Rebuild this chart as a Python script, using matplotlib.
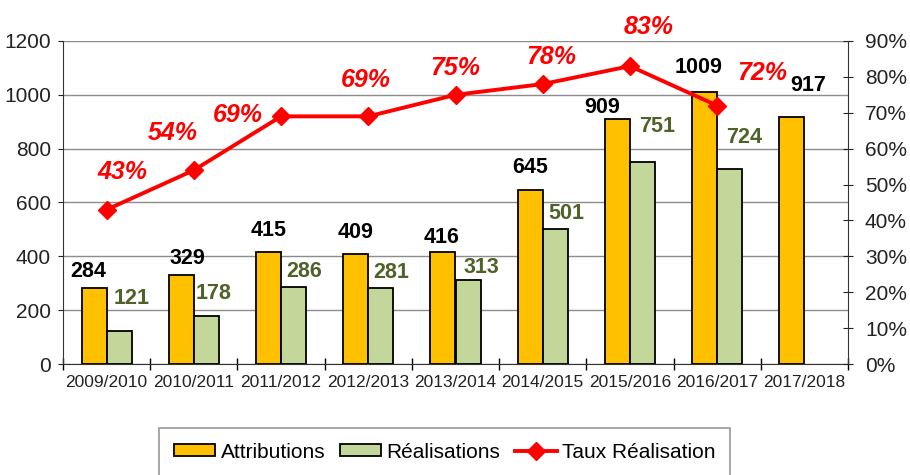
import matplotlib
matplotlib.use("Agg")
import matplotlib.pyplot as plt
import numpy as np

saisons = ["2009/2010", "2010/2011", "2011/2012", "2012/2013", "2013/2014",
           "2014/2015", "2015/2016", "2016/2017", "2017/2018"]
attributions = [284, 329, 415, 409, 416, 645, 909, 1009, 917]
realisations = [121, 178, 286, 281, 313, 501, 751, 724]
taux = [43, 54, 69, 69, 75, 78, 83, 72]

# where the value labels sit, in pixels from the top of the bar / marker
off_attr = [(-6, 16), (6, 17), (0, 22), (0, 21), (-1, 15), (0, 23), (-15, 12), (-6, 25), (16, 32)]
off_real = [(12, 33), (7, 23), (11, 16), (10, 16), (13, 12), (11, 16), (15, 35), (14, 32)]
off_taux = [(16, 38), (-21, 37), (-43, 1), (-2, 36), (0, 27), (9, 27), (19, 39), (45, 33)]

plt.rcParams["font.family"] = ["Liberation Sans", "DejaVu Sans"]

fig = plt.figure(figsize=(9.1, 4.75), dpi=100)
ax = fig.add_axes([63 / 910, 1 - 364 / 475, 785 / 910, 323 / 475])
ax2 = ax.twinx()

x = np.arange(len(saisons))
w = 0.287
b1 = ax.bar(x - w / 2, attributions, w, color="#FFC000", edgecolor="black",
            linewidth=1.3, zorder=3, label="Attributions")
xr = x[:len(realisations)]
b2 = ax.bar(xr + w / 2, realisations, w, color="#C4D79B", edgecolor="black",
            linewidth=1.3, zorder=3, label="Réalisations")
ln, = ax2.plot(xr, taux, color="#FF0000", lw=2.8, marker="D", markersize=9,
               label="Taux Réalisation", zorder=5)

for xi, v, (dx, dy) in zip(x - w / 2, attributions, off_attr):
    ax.annotate(str(v), (xi, v), xytext=(dx, dy), textcoords="offset pixels",
                ha="center", va="center", fontsize=15.5, fontweight="bold",
                color="black", zorder=6)
for xi, v, (dx, dy) in zip(xr + w / 2, realisations, off_real):
    ax.annotate(str(v), (xi, v), xytext=(dx, dy), textcoords="offset pixels",
                ha="center", va="center", fontsize=15.5, fontweight="bold",
                color="#4F6228", zorder=6)
for xi, v, (dx, dy) in zip(xr, taux, off_taux):
    ax2.annotate("%d%%" % v, (xi, v), xytext=(dx, dy), textcoords="offset pixels",
                 ha="center", va="center", fontsize=18, fontweight="bold",
                 fontstyle="italic", color="#FF0000", zorder=6)

ax.set_xlim(-0.5, len(saisons) - 0.5)
ax.set_ylim(0, 1200)
ax.set_yticks(range(0, 1201, 200))
ax2.set_ylim(0, 90)
ax2.set_yticks(range(0, 91, 10))
ax2.set_yticklabels(["%d%%" % t for t in range(0, 91, 10)])

ax.set_xticks(x)
ax.set_xticklabels(saisons)
ax.set_xticks(np.arange(-0.5, len(saisons)), minor=True)
ax.tick_params(axis="x", which="major", length=0, pad=8, labelsize=12.5, colors="#222222")
ax.tick_params(axis="x", which="minor", direction="inout", length=8.6, width=1)
ax.tick_params(axis="y", direction="out", length=3.6, pad=5, labelsize=15, colors="#222222")
ax2.tick_params(axis="y", direction="inout", length=7.2, pad=8.6, labelsize=15, colors="#222222")

ax.set_axisbelow(True)
ax.grid(axis="y", color="#8c8c8c", lw=1)
for s in ["top", "right"]:
    ax.spines[s].set_visible(False)
for s in ["top", "left", "bottom"]:
    ax2.spines[s].set_visible(False)
ax.spines["left"].set_color("#333333")
ax.spines["bottom"].set_color("#333333")
ax2.spines["right"].set_color("#333333")

leg = fig.legend([b1, b2, ln], ["Attributions", "Réalisations", "Taux Réalisation"],
                 loc="upper center", bbox_to_anchor=(0.4885, 1 - 428 / 475), ncol=3,
                 fontsize=15, frameon=True, fancybox=False, edgecolor="#7f7f7f",
                 borderpad=0.7, handlelength=2.0, handleheight=0.5,
                 handletextpad=0.25, columnspacing=0.7, borderaxespad=0)
leg.get_frame().set_linewidth(1.2)

fig.savefig("out.png", dpi=100)
